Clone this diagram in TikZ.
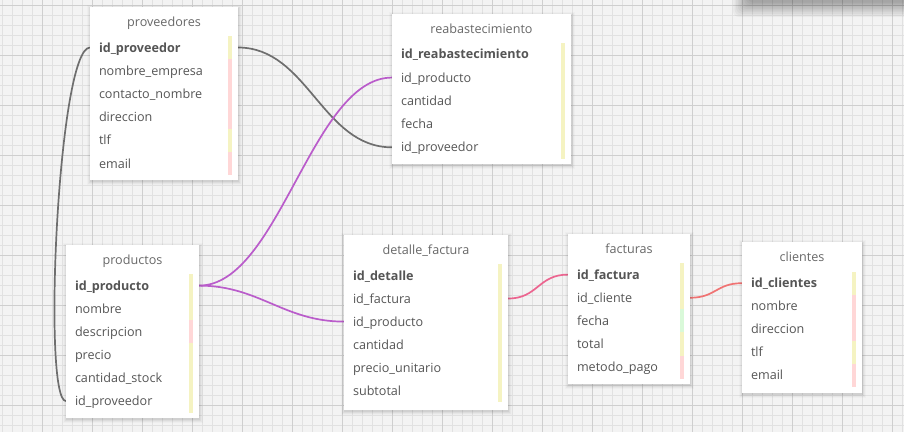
\documentclass[tikz,border=0pt]{standalone}
\usepackage{fontspec}
\setmainfont{Open Sans}
\pgfdeclarelayer{gridlayer}
\pgfdeclarelayer{connlayer}
\pgfsetlayers{gridlayer,connlayer,main}
\definecolor{bgcol}{HTML}{F3F3F3}
\definecolor{minorline}{HTML}{E1E1E1}
\definecolor{majorline}{HTML}{CFCFCF}
\definecolor{rowtxt}{HTML}{555555}
\definecolor{titletxt}{HTML}{686868}
\definecolor{barY}{HTML}{F5F3C2}
\definecolor{barP}{HTML}{FFD7D7}
\definecolor{barG}{HTML}{D9F9D9}
\definecolor{connGray}{HTML}{6E6E6E}
\definecolor{connPurple}{HTML}{BA5CCB}
\definecolor{connPink}{HTML}{EC6590}
\definecolor{connRed}{HTML}{F07373}
\newcommand{\ertable}[7]{%
  \foreach \s/\o in {4/0.02,3/0.03,2/0.04,1/0.05}{\fill[black,opacity=\o] ({#2-\s+1},{#3-\s+2}) rectangle ({#4+\s},{#5+\s+1});}
  \pgfmathsetmacro\erbw{#4-#2}\pgfmathsetmacro\erbh{#5-#3}%
  \node[tablebox, minimum width=\erbw pt, minimum height=\erbh pt] (#1) at (#2,#3) {};
  \node[titletext] (#1-title) at ({(#2+#4)/2},#7) {#6};
}
\newcommand{\errows}[5]{%
  \pgfmathsetmacro\erw{#2-#1}%
  \pgfmathsetmacro\ertw{#2-#1-18}%
  \pgfmathsetmacro\erh{#4/2}%
  \foreach [count=\i from 0] \n/\c/\t in {#5} {
    \pgfmathsetmacro\ery{#3+\i*#4}
    \fill[fill=\c] ({#2-10},{\ery-\erh}) rectangle ({#2-6},{\ery+\erh});
    \node[rowtext, minimum width=\erw pt, text width=\ertw pt, anchor=west] (\n) at (#1,\ery) {\t};
  }
}
\begin{document}
\begin{tikzpicture}[x=1pt,y=-1pt,
  rowtext/.style={inner xsep=9pt, inner ysep=0pt, outer sep=0pt, text height=11pt, text depth=2pt, align=left, font=\fontsize{12.6}{15}\selectfont, text=rowtxt},
  titletext/.style={inner sep=0pt, outer sep=0pt, text height=11pt, text depth=2pt, font=\fontsize{12.6}{15}\selectfont, text=titletxt},
  tablebox/.style={fill=white, draw=none, inner sep=0pt, outer sep=0pt, anchor=north west},
  conn/.style={line width=1.7pt}]
\useasboundingbox (0,0) rectangle (904,432);
\begin{pgfonlayer}{gridlayer}
\fill[bgcol] (0,0) rectangle (904,432);
\foreach \x in {2,12,...,902} \draw[minorline, line width=0.8pt] (\x,0) -- (\x,432);
\foreach \y in {5,15,...,425} \draw[minorline, line width=0.8pt] (0,\y) -- (904,\y);
\foreach \x in {42,92,...,892} \draw[majorline, line width=0.9pt] (\x,0) -- (\x,432);
\foreach \y in {5,55,...,405} \draw[majorline, line width=0.9pt] (0,\y) -- (904,\y);
\foreach \i in {0,...,9} \fill[black, opacity=0.035, rounded corners=6pt] ({733+\i*1.6},-10) rectangle (914,{17-\i*1.6});
\end{pgfonlayer}

\ertable{prov}{90}{7}{238}{180}{proveedores}{21.5}
\errows{90}{238}{47.5}{23.2}{prov-id/barY/{\bfseries id\_proveedor}, prov-nom/barP/nombre\_empresa, prov-con/barP/contacto\_nombre, prov-dir/barP/direccion, prov-tlf/barY/tlf, prov-mail/barP/email}

\ertable{reab}{392}{14}{571}{164}{reabastecimiento}{29}
\errows{392}{571}{54.3}{23.26}{reab-id/barY/{\bfseries id\_reabastecimiento}, reab-prod/barY/id\_producto, reab-cant/barY/cantidad, reab-fecha/barY/fecha, reab-prov/barY/id\_proveedor}

\ertable{prod}{66}{245}{199}{418}{productos}{260}
\errows{66}{199}{285.6}{23.1}{prod-id/barY/{\bfseries id\_producto}, prod-nom/barY/nombre, prod-desc/barP/descripcion, prod-precio/barY/precio, prod-stock/barY/cantidad\_stock, prod-prov/barY/id\_proveedor}

\ertable{det}{344}{235}{508}{410}{detalle\_factura}{249.7}
\errows{344}{508}{275.5}{23.05}{det-id/barY/{\bfseries id\_detalle}, det-fact/barY/id\_factura, det-prod/barY/id\_producto, det-cant/barY/cantidad, det-precio/barY/precio\_unitario, det-sub/barY/subtotal}

\ertable{fac}{568}{234}{690}{384}{facturas}{248.7}
\errows{568}{690}{274.6}{23.14}{fac-id/barY/{\bfseries id\_factura}, fac-cli/barY/id\_cliente, fac-fecha/barG/fecha, fac-total/barY/total, fac-met/barP/metodo\_pago}

\ertable{cli}{742}{242}{862}{393}{clientes}{256.7}
\errows{742}{862}{283.2}{23}{cli-id/barY/{\bfseries id\_clientes}, cli-nom/barP/nombre, cli-dir/barP/direccion, cli-tlf/barY/tlf, cli-mail/barP/email}

\begin{pgfonlayer}{connlayer}
\draw[conn, connGray] (prov-id.east) .. controls +(70,0) and +(-70,0) .. (reab-prov.west);
\draw[conn, connGray] (prov-id.west) .. controls +(-32,0) and +(-24,0) .. (prod-prov.west);
\draw[conn, connPurple] (prod-id.east) .. controls +(80,0) and +(-80,0) .. (reab-prod.west);
\draw[conn, connPurple] (prod-id.east) .. controls +(60,0) and +(-60,0) .. (det-prod.west);
\draw[conn, connPink] (det-fact.east) .. controls +(30,0) and +(-30,0) .. (fac-id.west);
\draw[conn, connRed] (fac-cli.east) .. controls +(26,0) and +(-26,0) .. (cli-id.west);
\end{pgfonlayer}
\end{tikzpicture}
\end{document}
